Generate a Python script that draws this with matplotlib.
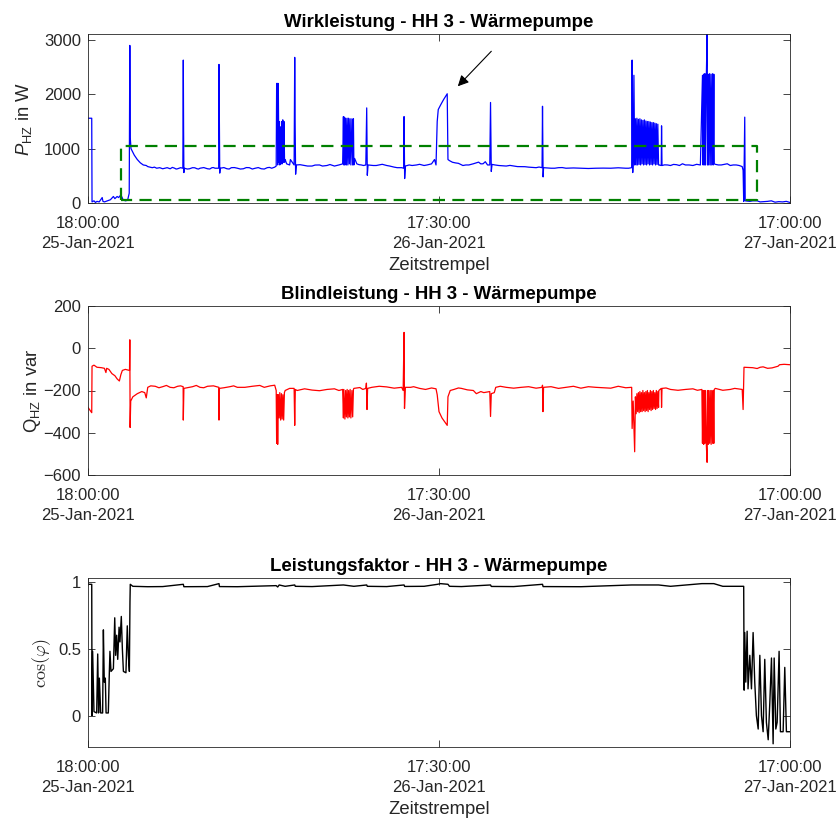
import datetime as dt
import matplotlib
matplotlib.use("Agg")
import matplotlib.pyplot as plt
import matplotlib.dates as mdates
import numpy as np

plt.rcParams['font.family'] = ['Liberation Sans', 'DejaVu Sans']
plt.rcParams['mathtext.fontset'] = 'custom'
plt.rcParams['mathtext.rm'] = 'Liberation Sans'
plt.rcParams['mathtext.it'] = 'Liberation Sans:italic'
plt.rcParams['mathtext.bf'] = 'Liberation Sans:bold'

# ---------------- data (hours since 25-Jan-2021 18:00:00, value) ----------------
start_time = dt.datetime(2021, 1, 25, 18, 0, 0)
end_time = dt.datetime(2021, 1, 27, 17, 0, 0)
tick_times = [dt.datetime(2021, 1, 25, 18, 0, 0),
              dt.datetime(2021, 1, 26, 17, 30, 0),
              dt.datetime(2021, 1, 27, 17, 0, 0)]
tick_labels = ["18:00:00\n25-Jan-2021", "17:30:00\n26-Jan-2021", "17:00:00\n27-Jan-2021"]

p_points = [
    (0.00, 1560), (0.25, 1560), (0.27, 20), (0.40, 40), (0.50, 10), (0.60, 30),
    (0.75, 20), (0.95, 100), (1.00, 30), (1.10, 20), (1.30, 40), (1.50, 60),
    (1.70, 120), (1.80, 80), (1.95, 120), (2.05, 100), (2.20, 150), (2.35, 60),
    (2.50, 40), (2.65, 50), (2.76, 180), (2.80, 2900), (2.83, 1200), (2.88, 1000),
    (2.97, 950), (3.10, 880), (3.30, 800), (3.50, 740), (3.70, 700), (4.00, 670),
    (4.30, 650), (4.60, 640), (5.00, 630), (5.30, 650), (5.50, 630), (5.80, 640),
    (6.00, 630), (6.35, 640), (6.38, 2630), (6.40, 1350), (6.42, 560), (6.45, 640),
    (6.80, 630), (7.00, 650), (7.30, 630), (7.50, 640), (8.00, 630), (8.30, 650),
    (8.50, 640), (8.75, 640), (8.77, 2550), (8.80, 1290), (8.82, 550), (8.85, 640),
    (9.30, 630), (9.60, 650), (10.00, 640), (10.40, 630), (10.80, 650), (11.20, 640),
    (11.60, 630), (12.00, 650), (12.30, 640), (12.50, 660), (12.60, 680),
    (12.63, 2200), (12.68, 2200), (12.70, 700), (12.74, 2200), (12.78, 750),
    (12.80, 1500), (12.84, 700), (12.88, 1400), (12.92, 720), (12.96, 1500),
    (13.00, 720), (13.04, 1530), (13.08, 750), (13.12, 1500), (13.16, 750),
    (13.20, 800), (13.30, 720), (13.50, 700), (13.55, 800), (13.80, 700),
    (13.84, 2680), (13.87, 1400), (13.90, 530), (13.95, 700), (14.50, 690),
    (15.00, 680), (15.50, 700), (16.00, 690), (16.50, 680), (16.80, 700),
    (17.05, 720), (17.10, 1590), (17.13, 700), (17.17, 1580), (17.20, 700),
    (17.25, 1560), (17.30, 700), (17.35, 1560), (17.40, 700), (17.45, 1560),
    (17.50, 720), (17.55, 1550), (17.60, 700), (17.67, 1550), (17.72, 700),
    (17.77, 1550), (17.80, 700), (17.85, 820), (18.00, 720), (18.30, 700),
    (18.60, 700), (18.66, 1750), (18.70, 510), (18.75, 700), (19.10, 690),
    (19.50, 700), (20.00, 690), (20.50, 660), (21.00, 650), (21.14, 640),
    (21.16, 1590), (21.20, 450), (21.25, 680), (21.50, 700), (22.00, 700),
    (22.50, 690), (23.00, 720), (23.20, 800), (23.30, 700), (23.38, 1500),
    (23.45, 1720), (23.60, 1800), (23.80, 1900), (24.00, 1990), (24.05, 2010),
    (24.10, 800), (24.20, 780), (24.40, 750), (24.80, 730), (25.10, 690),
    (25.50, 700), (26.00, 740), (26.30, 720), (26.60, 760), (26.90, 700),
    (26.95, 1850), (27.00, 580), (27.05, 710), (27.50, 690), (28.00, 680),
    (28.50, 680), (29.00, 670), (29.50, 660), (30.00, 650), (30.40, 650),
    (30.43, 1780), (30.47, 480), (30.50, 650), (31.00, 640), (31.50, 650),
    (32.00, 640), (33.00, 640), (34.00, 640), (35.00, 640), (36.00, 640),
    (36.40, 650), (36.43, 2630), (36.47, 560), (36.50, 800), (36.55, 2350),
    (36.60, 700), (36.65, 1550), (36.70, 700), (36.75, 1560), (36.80, 700),
    (36.85, 1540), (36.90, 710), (36.95, 1550), (37.00, 700), (37.05, 1530),
    (37.10, 720), (37.15, 1520), (37.20, 700), (37.25, 1530), (37.30, 710),
    (37.35, 1510), (37.40, 700), (37.45, 1500), (37.50, 720), (37.55, 1500),
    (37.60, 700), (37.65, 1490), (37.70, 710), (37.75, 1480), (37.80, 700),
    (37.85, 1480), (37.90, 720), (37.95, 1470), (38.00, 700), (38.05, 1460),
    (38.10, 710), (38.15, 1450), (38.20, 700), (38.22, 700), (38.38, 690),
    (38.40, 1420), (38.43, 690), (38.80, 700), (39.20, 710), (39.60, 690),
    (40.00, 700), (40.50, 690), (41.00, 700), (41.14, 2350), (41.18, 700),
    (41.22, 2370), (41.26, 700), (41.30, 2380), (41.34, 700), (41.40, 2350),
    (41.45, 3110), (41.48, 700), (41.52, 2370), (41.56, 700), (41.62, 2380),
    (41.66, 700), (41.72, 2370), (41.76, 700), (41.82, 2380), (41.86, 700),
    (41.90, 2370), (41.93, 720), (42.20, 700), (42.60, 710), (43.00, 690),
    (43.40, 700), (43.80, 670), (43.86, 600), (43.90, 30), (43.97, 1580),
    (44.00, 40), (44.30, 30), (44.50, 40), (45.00, 20), (45.50, 30), (46.00, 15),
    (46.50, 20), (47.00, 10),
]
# small ripples of the base load
p_ripple = [
    (3.90, 690), (4.45, 660), (4.80, 650), (5.15, 640), (5.65, 655), (5.90, 625),
    (6.20, 650), (6.65, 625), (7.15, 648), (7.40, 625), (7.75, 652), (8.15, 625),
    (8.40, 652), (9.10, 652), (9.45, 625), (9.80, 652), (10.20, 625), (10.60, 652),
    (11.00, 625), (11.40, 652), (11.80, 625), (12.15, 655), (14.20, 705), (14.70, 680),
    (15.20, 698), (15.70, 680), (16.20, 708), (16.65, 690), (18.15, 705), (18.45, 690),
    (19.30, 690), (19.70, 712), (20.20, 680), (20.70, 650), (21.70, 690), (22.20, 712),
    (22.70, 700), (24.60, 738), (25.30, 700), (25.80, 722), (26.15, 752), (26.45, 722),
    (26.75, 700), (27.25, 700), (27.75, 685), (28.25, 692), (28.75, 670), (29.25, 668),
    (29.75, 655), (30.20, 662), (30.80, 645), (31.25, 640), (31.75, 652), (32.50, 645),
    (33.50, 635), (34.50, 642), (35.50, 648), (36.20, 640), (38.60, 702), (39.00, 690),
    (39.40, 705), (39.80, 722), (40.25, 700), (40.75, 712), (42.00, 712), (42.40, 700),
    (42.80, 722), (43.20, 700), (43.60, 690), (44.80, 40), (45.25, 25), (45.75, 40),
    (46.25, 25), (46.75, 30),
]

q_points = [
    (0.00, -280), (0.10, -290), (0.25, -305), (0.27, -85), (0.40, -80), (0.60, -90),
    (0.90, -92), (1.10, -95), (1.20, -115), (1.25, -95), (1.40, -100), (1.60, -120),
    (1.80, -130), (1.95, -145), (2.10, -155), (2.20, -125), (2.30, -105), (2.50, -100),
    (2.78, -105), (2.80, 40), (2.82, -375), (2.86, -250), (3.00, -230), (3.30, -215),
    (3.60, -205), (3.80, -210), (3.90, -235), (4.00, -185), (4.50, -180), (5.00, -182),
    (5.50, -185), (6.00, -180), (6.37, -182), (6.38, -340), (6.42, -190), (7.00, -182),
    (7.50, -185), (8.00, -180), (8.76, -185), (8.77, -340), (8.80, -190), (9.50, -182),
    (10.00, -185), (11.00, -180), (12.20, -178), (12.50, -175), (12.60, -200),
    (12.63, -450), (12.67, -220), (12.70, -455), (12.74, -220), (12.80, -330),
    (12.84, -210), (12.90, -340), (12.95, -215), (13.00, -335), (13.05, -220),
    (13.10, -340), (13.15, -210), (13.20, -200), (13.50, -190), (13.80, -190),
    (13.84, -365), (13.88, -195), (14.00, -200), (15.00, -198), (16.00, -195),
    (17.05, -195), (17.10, -330), (17.13, -195), (17.20, -335), (17.25, -200),
    (17.30, -325), (17.35, -195), (17.40, -330), (17.45, -200), (17.50, -325),
    (17.55, -195), (17.60, -330), (17.67, -200), (17.72, -325), (17.77, -195),
    (17.80, -190), (18.60, -190), (18.64, -165), (18.68, -290), (18.72, -190),
    (19.00, -185), (20.00, -183), (21.00, -185), (21.10, -200), (21.16, 75),
    (21.19, -285), (21.25, -185), (21.60, -185), (22.20, -190), (23.30, -192),
    (23.38, -220), (23.50, -300), (23.70, -330), (23.90, -350), (24.05, -365),
    (24.10, -230), (24.15, -220), (24.25, -200), (24.50, -195), (25.00, -190),
    (25.80, -200), (26.00, -215), (26.30, -205), (26.50, -210), (26.90, -205),
    (26.95, -323), (27.00, -215), (27.20, -210), (27.30, -185), (28.00, -185),
    (29.00, -185), (30.40, -185), (30.43, -175), (30.46, -300), (30.50, -185),
    (32.00, -185), (34.00, -185), (36.40, -185), (36.43, -380), (36.50, -250),
    (36.60, -490), (36.65, -230), (36.70, -310), (36.75, -215), (36.80, -300),
    (36.85, -210), (36.90, -305), (36.95, -205), (37.00, -300), (37.05, -210),
    (37.10, -300), (37.15, -200), (37.20, -295), (37.25, -210), (37.30, -300),
    (37.35, -205), (37.40, -295), (37.45, -200), (37.50, -300), (37.55, -210),
    (37.60, -290), (37.65, -200), (37.70, -295), (37.75, -205), (37.80, -290),
    (37.85, -200), (37.90, -285), (37.95, -210), (38.00, -290), (38.05, -200),
    (38.10, -285), (38.15, -205), (38.20, -280), (38.22, -200), (38.38, -190),
    (38.40, -280), (38.43, -190), (39.00, -195), (40.00, -195), (41.10, -195),
    (41.14, -450), (41.18, -200), (41.22, -455), (41.26, -200), (41.30, -450),
    (41.34, -200), (41.40, -460), (41.45, -540), (41.48, -200), (41.52, -455),
    (41.56, -200), (41.62, -450), (41.66, -200), (41.72, -455), (41.76, -200),
    (41.82, -450), (41.86, -200), (41.90, -450), (41.93, -195), (43.00, -195),
    (43.80, -195), (43.86, -290), (43.92, -90), (44.50, -92), (45.00, -90),
    (45.50, -95), (46.20, -85), (46.30, -78), (47.00, -78),
]
q_ripple = [
    (4.20, -178), (4.75, -187), (5.25, -176), (5.75, -187), (6.20, -178), (6.70, -186),
    (7.25, -176), (7.75, -187), (8.40, -178), (9.10, -187), (9.75, -178), (10.50, -185),
    (11.50, -176), (11.80, -185), (14.50, -192), (15.50, -201), (16.50, -192),
    (16.80, -200), (18.20, -186), (18.40, -195), (19.50, -180), (20.50, -189),
    (21.80, -182), (22.60, -195), (23.00, -188), (24.80, -188), (25.40, -197),
    (27.60, -180), (28.50, -189), (29.50, -182), (30.00, -189), (31.00, -182),
    (31.50, -190), (32.50, -180), (33.00, -189), (33.50, -182), (35.00, -189),
    (35.50, -180), (36.00, -187), (38.70, -188), (39.50, -199), (40.50, -192),
    (40.80, -199), (42.00, -190), (42.50, -199), (43.30, -190), (44.80, -96),
    (45.20, -88), (45.80, -93), (46.60, -76),
]

pf_points = [
    (0.00, 0.98), (0.25, 0.98), (0.27, 0.00), (0.31, 0.48), (0.40, 0.03), (0.58, 0.02),
    (0.65, 0.46), (0.71, 0.02), (0.76, 0.28), (0.85, 0.02), (0.98, 0.02), (1.03, 0.64),
    (1.09, 0.25), (1.16, 0.28), (1.21, 0.02), (1.36, 0.02), (1.43, 0.33), (1.47, 0.48),
    (1.54, 0.33), (1.70, 0.35), (1.79, 0.73), (1.85, 0.45), (1.92, 0.60), (1.99, 0.42),
    (2.08, 0.66), (2.14, 0.55), (2.23, 0.74), (2.30, 0.50), (2.37, 0.33), (2.54, 0.32),
    (2.63, 0.67), (2.70, 0.45), (2.77, 0.33), (2.81, 0.85), (2.83, 0.98), (3.00, 0.965),
    (4.00, 0.962), (5.00, 0.963), (6.38, 0.98), (6.42, 0.962), (8.00, 0.963),
    (8.77, 0.985), (8.80, 0.963), (10.00, 0.962), (12.60, 0.97), (12.70, 0.96),
    (12.80, 0.975), (13.20, 0.965), (13.84, 0.975), (13.88, 0.965), (15.00, 0.963),
    (17.10, 0.975), (17.80, 0.965), (18.66, 0.975), (18.70, 0.965), (20.00, 0.963),
    (21.16, 0.975), (21.20, 0.964), (22.50, 0.965), (23.40, 0.98), (23.60, 0.985),
    (24.10, 0.98), (24.20, 0.965), (25.00, 0.963), (26.95, 0.975), (27.00, 0.964),
    (28.50, 0.963), (30.43, 0.98), (30.47, 0.963), (33.00, 0.962), (36.40, 0.975),
    (38.20, 0.975), (39.00, 0.965), (41.10, 0.985), (41.90, 0.985), (42.50, 0.965),
    (43.90, 0.965), (43.93, 0.19), (43.97, 0.62), (44.04, 0.25), (44.13, 0.63),
    (44.19, 0.20), (44.31, 0.45), (44.42, 0.20), (44.53, 0.62), (44.64, 0.25),
    (44.75, 0.00), (44.87, -0.10), (44.98, 0.45), (45.09, 0.00), (45.20, -0.12),
    (45.31, 0.42), (45.42, -0.05), (45.54, -0.18), (45.65, 0.10), (45.76, 0.43),
    (45.87, -0.21), (45.94, 0.43), (46.05, -0.10), (46.14, -0.05), (46.27, 0.48),
    (46.36, -0.12), (46.54, -0.12), (46.65, 0.36), (46.76, -0.12), (47.00, -0.12),
]

p_hours, p_watts = [list(c) for c in zip(*sorted(p_points + p_ripple))]
q_hours, q_var = [list(c) for c in zip(*sorted(q_points + q_ripple))]
pf_hours, pf_cos = [list(c) for c in zip(*pf_points)]

# highlighted region (green dashed box) and annotation arrow
box_hours = [2.19, 2.19, 44.80, 44.80, 2.19]
box_watts = [60, 1040, 1040, 60, 60]
arrow_tip = (24.63, 2111)
arrow_tail = (27.13, 2829)

# ---------------- helpers ----------------
base_num = mdates.date2num(start_time)


def to_num(hours):
    return base_num + np.asarray(hours, dtype=float) / 24.0


tick_col = '#262626'
W, H = 838, 818
fig = plt.figure(figsize=(W / 100, H / 100), dpi=100)


def make_ax(top_px, bottom_px):
    left, right = 88, 790
    return fig.add_axes([left / W, (H - bottom_px) / H, (right - left) / W,
                         (bottom_px - top_px) / H])


def style(ax, title, xlabel=True):
    ax.set_xlim(mdates.date2num(start_time), mdates.date2num(end_time))
    ax.set_xticks([mdates.date2num(t) for t in tick_times])
    ax.set_xticklabels(tick_labels, linespacing=1.47)
    ax.tick_params(direction='in', top=True, right=True, length=5, width=0.6,
                   colors=tick_col, labelsize=12, pad=5)
    ax.tick_params(axis='x', pad=9)
    for s in ax.spines.values():
        s.set_color(tick_col)
        s.set_linewidth(0.6)
    ax.set_title(title, fontsize=13.4, fontweight='bold', pad=5)
    if xlabel:
        ax.set_xlabel('Zeitstrempel', fontsize=13.3, color=tick_col, labelpad=4.5)


ax1 = make_ax(34, 203)
ax1.plot(to_num(p_hours), p_watts, color='blue', lw=0.9)
ax1.plot(to_num(box_hours), box_watts, color=(0, 0.5, 0), lw=1.6, dashes=(5.5, 3.3))
ax1.annotate('', xy=(to_num(arrow_tip[0]), arrow_tip[1]),
             xytext=(to_num(arrow_tail[0]), arrow_tail[1]),
             arrowprops=dict(arrowstyle='-|>', color='k', lw=0.8, mutation_scale=16))
ax1.set_ylim(0, 3110)
ax1.set_yticks([0, 1000, 2000, 3000])
ax1.set_ylabel(r'$P_{\mathrm{HZ}}$ in W', fontsize=13.3, color=tick_col, labelpad=7)
style(ax1, 'Wirkleistung - HH 3 - Wärmepumpe')

ax2 = make_ax(306, 475)
ax2.plot(to_num(q_hours), q_var, color='red', lw=0.9)
ax2.set_ylim(-600, 200)
ax2.set_yticks([-600, -400, -200, 0, 200])
ax2.set_ylabel(r'Q$_{\mathrm{HZ}}$ in var', fontsize=13.3, color=tick_col, labelpad=0)
style(ax2, 'Blindleistung - HH 3 - Wärmepumpe', xlabel=False)

ax3 = make_ax(578, 747)
ax3.plot(to_num(pf_hours), pf_cos, color='black', lw=1.0)
ax3.set_ylim(-0.234, 1.027)
ax3.set_yticks([0, 0.5, 1])
ax3.set_yticklabels(['0', '0.5', '1'])
ax3.set_ylabel(r'$\cos(\varphi)$', fontsize=13, color=tick_col, labelpad=4,
               math_fontfamily='cm')
style(ax3, 'Leistungsfaktor - HH 3 - Wärmepumpe')

fig.savefig('out.png', dpi=100)
